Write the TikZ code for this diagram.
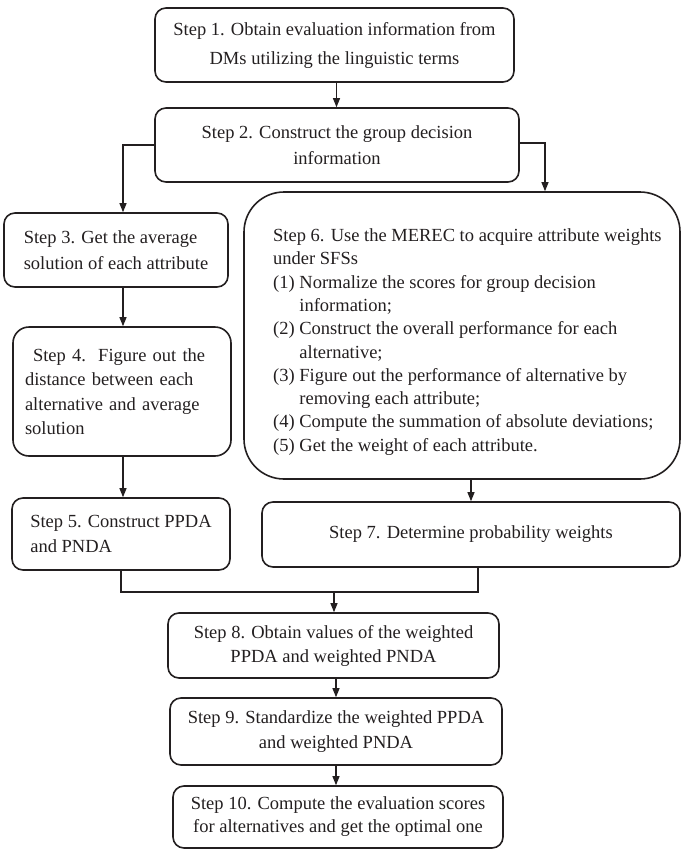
\documentclass[tikz,border=0pt]{standalone}
\usepackage{fontspec}
\setmainfont{Liberation Serif}
\usetikzlibrary{arrows.meta}
\definecolor{ink}{RGB}{35,31,32}
\begin{document}
\begin{tikzpicture}[x=1pt,y=-1pt,
  box/.style={draw=ink, text=ink, line width=1.6pt, rounded corners=11pt, inner sep=0pt, align=center, font=\fontsize{18.5}{24}\selectfont},
  txt/.style={text=ink, inner sep=0pt, align=left, font=\fontsize{18.5}{23.3}\selectfont},
  conn/.style={draw=ink, line width=1.1pt},
  arr/.style={conn, -{Triangle[length=9pt,width=7pt]}}]
\useasboundingbox (0,0) rectangle (681,849);
\node[box, minimum width=359pt, minimum height=74pt, font=\fontsize{18.5}{29}\selectfont] (s1) at (334.5,45) {Step 1. Obtain evaluation information from\\DMs utilizing the linguistic terms};
\node[box, minimum width=364pt, minimum height=74pt, font=\fontsize{18.5}{26}\selectfont] (s2) at (337,145) {Step 2. Construct the group decision\\information};
\node[box, align=left, minimum width=224pt, minimum height=74pt, font=\fontsize{18.5}{26}\selectfont] (s3) at (116,250) {Step 3. Get the average\\solution of each attribute};
\node[box, align=left, text width=194pt, inner xsep=12pt, minimum height=129pt, rounded corners=16pt, font=\fontsize{18.5}{24.5}\selectfont] (s4) at (122,391.5) {\hspace*{8pt}Step 4.\ \ Figure out the\\distance between each\\alternative and average\\solution};
\node[box, align=left, minimum width=218pt, minimum height=72pt, font=\fontsize{18.5}{25}\selectfont] (s5) at (121,534) {Step 5. Construct PPDA\\and PNDA};
\node[box, minimum width=436pt, minimum height=287pt, rounded corners=40pt] (s6) at (462,335.5) {};
\node[txt, anchor=west] (s6t) at (273,342) {Step 6. Use the MEREC to acquire attribute weights\\
under SFSs\\
(1) Normalize the scores for group decision\\
\phantom{(1) }information;\\
(2) Construct the overall performance for each\\
\phantom{(2) }alternative;\\
(3) Figure out the performance of alternative by\\
\phantom{(3) }removing each attribute;\\
(4) Compute the summation of absolute deviations;\\
(5) Get the weight of each attribute.};
\node[box, minimum width=418pt, minimum height=65pt] (s7) at (471,534.5) {Step 7. Determine probability weights};
\node[box, minimum width=331pt, minimum height=65pt] (s8) at (333.5,645.5) {Step 8. Obtain values of the weighted\\PPDA and weighted PNDA};
\node[box, minimum width=332pt, minimum height=67pt, font=\fontsize{18.5}{25}\selectfont] (s9) at (336,731.5) {Step 9. Standardize the weighted PPDA\\and weighted PNDA};
\node[box, minimum width=330pt, minimum height=62pt, font=\fontsize{18.5}{23}\selectfont] (s10) at (338,817) {Step 10. Compute the evaluation scores\\for alternatives and get the optimal one};
\draw[arr] ([xshift=2pt]s1.south) -- ([xshift=2pt]s1.south |- s2.north);
\draw[arr] (s2.west) -| ([xshift=7pt]s3.north);
\draw[arr] ([yshift=2pt]s2.east) -| ([xshift=83pt]s6.north);
\draw[arr] ([xshift=7pt]s3.south) -- ([xshift=7pt]s3.south |- s4.north);
\draw[arr] ([xshift=1pt]s4.south) -- ([xshift=1pt]s4.south |- s5.north);
\draw[arr] (s7.north |- s6.south) -- (s7.north);
\coordinate (m) at (334,592);
\draw[conn] (s5.south) |- (m) -| ([xshift=7pt]s7.south);
\draw[arr] (m) -- (m |- s8.north);
\draw[arr] (s9.north |- s8.south) -- (s9.north);
\draw[arr] (s9.south) -- (s9.south |- s10.north);
\end{tikzpicture}
\end{document}
